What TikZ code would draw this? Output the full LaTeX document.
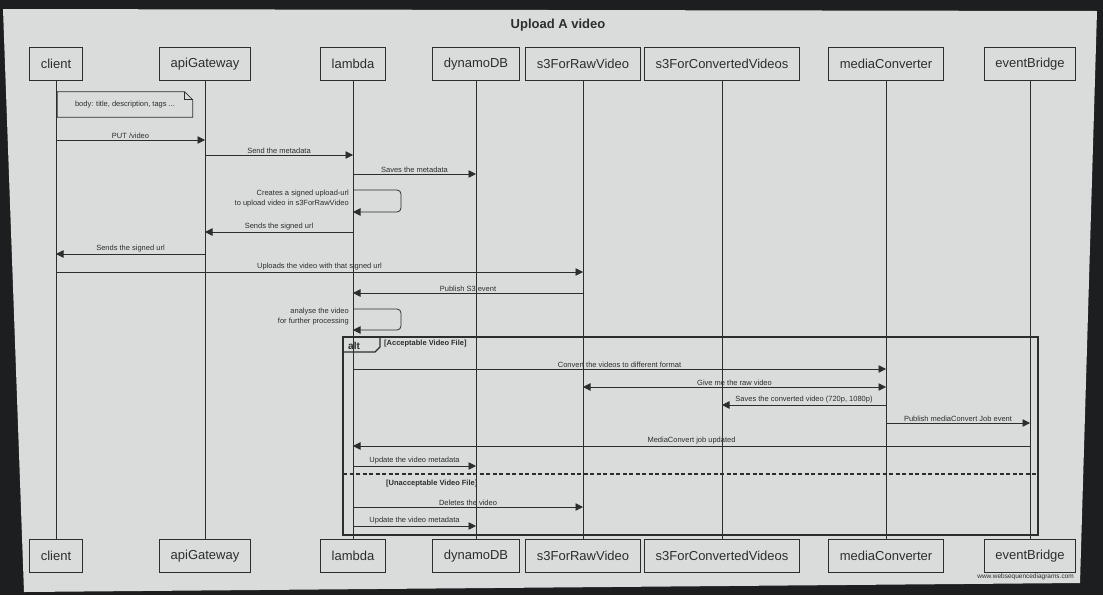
\documentclass[tikz,border=0pt]{standalone}
\usepackage{fontspec}
\setmainfont{Liberation Sans}
\usetikzlibrary{arrows.meta}
\definecolor{myscreen}{RGB}{217,220,219}
\definecolor{mybezel}{RGB}{29,30,32}
\definecolor{ink}{RGB}{45,45,45}
\tikzset{
  part/.style={draw=ink, line width=0.9pt, minimum height=33pt, inner xsep=11pt,
    font=\fontsize{13}{15}\selectfont, text=ink},
  life/.style={draw=ink, line width=0.8pt},
  msg/.style={draw=ink, line width=0.8pt, -{Triangle[length=7.5pt,width=7.5pt]}},
  dmsg/.style={draw=ink, line width=0.8pt, {Triangle[length=7.5pt,width=7.5pt]}-{Triangle[length=7.5pt,width=7.5pt]}},
  lbl/.style={font=\fontsize{7.5}{9}\selectfont, text=ink, inner sep=1.5pt, above},
  slbl/.style={font=\fontsize{7.5}{10}\selectfont, text=ink, inner sep=1pt, anchor=east, align=right, xshift=-3pt},
  frame/.style={draw=ink, line width=1.1pt},
  guard/.style={font=\bfseries\fontsize{7.5}{9}\selectfont, text=ink, inner sep=1pt, anchor=west},
}
\begin{document}
\begin{tikzpicture}[x=1pt,y=-1pt]
\useasboundingbox (0,0) rectangle (1103,595);
\fill[fill=mybezel] (0,0) rectangle (1103,595);
\fill[fill=myscreen] (3,9) -- (1097,11) -- (1080,583) -- (24,592) -- cycle;
\node[font=\bfseries\fontsize{13}{15}\selectfont, text=ink] (title) at (558,25) {Upload A video};

% participants and lifelines
\foreach \n/\x/\t in {client/56/client, api/205/apiGateway, lambda/353/lambda,
  dynamo/476/dynamoDB, raw/583/s3ForRawVideo, conv/722/s3ForConvertedVideos,
  media/886/mediaConverter, event/1030/eventBridge}{
  \node[part] (t\n) at (\x,64) {\t};
  \node[part] (b\n) at (\x,556) {\t};
  \draw[life] (t\n) -- (b\n);
}

% note
\node[minimum width=135pt, minimum height=25pt, inner sep=0pt,
  font=\fontsize{7.5}{9}\selectfont, text=ink] (note) at (125,104.5) {body: title, description, tags ...};
\draw[draw=ink, line width=0.8pt] (note.south west) -- (note.north west) -- ([xshift=-8pt]note.north east)
  -- ([yshift=-8pt]note.north east) -- (note.south east) -- cycle;
\draw[draw=ink, line width=0.8pt] ([xshift=-8pt]note.north east) -- ([xshift=-8pt,yshift=-8pt]note.north east)
  -- ([yshift=-8pt]note.north east);

% message heights
\coordinate (y1) at (0,140);
\coordinate (y2) at (0,155);
\coordinate (y3) at (0,174);
\coordinate (s1a) at (0,190);
\coordinate (s1m) at (0,199);
\coordinate (s1b) at (0,212);
\coordinate (y4) at (0,232);
\coordinate (y5) at (0,254);
\coordinate (y6) at (0,272);
\coordinate (y7) at (0,293);
\coordinate (s2a) at (0,309);
\coordinate (s2m) at (0,317);
\coordinate (s2b) at (0,330);
\coordinate (y8) at (0,369);
\coordinate (y9) at (0,387);
\coordinate (y10) at (0,405);
\coordinate (y11) at (0,423);
\coordinate (y12) at (0,446);
\coordinate (y13) at (0,466);
\coordinate (sep) at (0,474);
\coordinate (y14) at (0,507);
\coordinate (y15) at (0,526);

\draw[msg] (tclient |- y1) -- node[lbl]{PUT /video} (tapi |- y1);
\draw[msg] (tapi |- y2) -- node[lbl]{Send the metadata} (tlambda |- y2);
\draw[msg] (tlambda |- y3) -- node[lbl]{Saves the metadata} (tdynamo |- y3);
\draw[msg, rounded corners=4pt] (tlambda |- s1a) -- ++(48,0) |- (tlambda |- s1b);
\node[slbl] (lab1) at (tlambda |- s1m) {Creates a signed upload-url\\to upload video in s3ForRawVideo};
\draw[msg] (tlambda |- y4) -- node[lbl]{Sends the signed url} (tapi |- y4);
\draw[msg] (tapi |- y5) -- node[lbl]{Sends the signed url} (tclient |- y5);
\draw[msg] (tclient |- y6) -- node[lbl]{Uploads the video with that signed url} (traw |- y6);
\draw[msg] (traw |- y7) -- node[lbl]{Publish S3 event} (tlambda |- y7);
\draw[msg, rounded corners=4pt] (tlambda |- s2a) -- ++(48,0) |- (tlambda |- s2b);
\node[slbl] (lab2) at (tlambda |- s2m) {analyse the video\\for further processing};

% alt frame
\coordinate (fa) at (343,337);
\coordinate (fb) at (1038,535);
\coordinate (tabb) at (0,352);
\draw[frame] (fa) rectangle (fb);
\node[font=\bfseries\fontsize{10}{11}\selectfont, text=ink, anchor=west, inner sep=0pt] (alt) at (348,345.5) {alt};
\draw[frame] (fa) -- ++(37,0) -- ++(0,10) -- ++(-5,5) -- (fa |- tabb);
\node[guard] (g1) at (383,344) {[Acceptable Video File]};

\draw[msg] (tlambda |- y8) -- node[lbl]{Convert the videos to different format} (tmedia |- y8);
\draw[dmsg] (traw |- y9) -- node[lbl]{Give me the raw video} (tmedia |- y9);
\draw[msg] (tmedia |- y10) -- node[lbl]{Saves the converted video (720p, 1080p)} (tconv |- y10);
\draw[msg] (tmedia |- y11) -- node[lbl]{Publish mediaConvert Job event} (tevent |- y11);
\draw[msg] (tevent |- y12) -- node[lbl]{MediaConvert job updated} (tlambda |- y12);
\draw[msg] (tlambda |- y13) -- node[lbl]{Update the video metadata} (tdynamo |- y13);

\draw[frame, dash pattern=on 4pt off 2.5pt] (fa |- sep) -- (fb |- sep);
\node[guard] (g2) at (385,484) {[Unacceptable Video File]};

\draw[msg] (tlambda |- y14) -- node[lbl]{Deletes the video} (traw |- y14);
\draw[msg] (tlambda |- y15) -- node[lbl]{Update the video metadata} (tdynamo |- y15);

\node[font=\fontsize{6.5}{7}\selectfont, text=ink, anchor=east, inner sep=0pt] (wm) at (1074,577) {www.websequencediagrams.com};
\end{tikzpicture}
\end{document}
